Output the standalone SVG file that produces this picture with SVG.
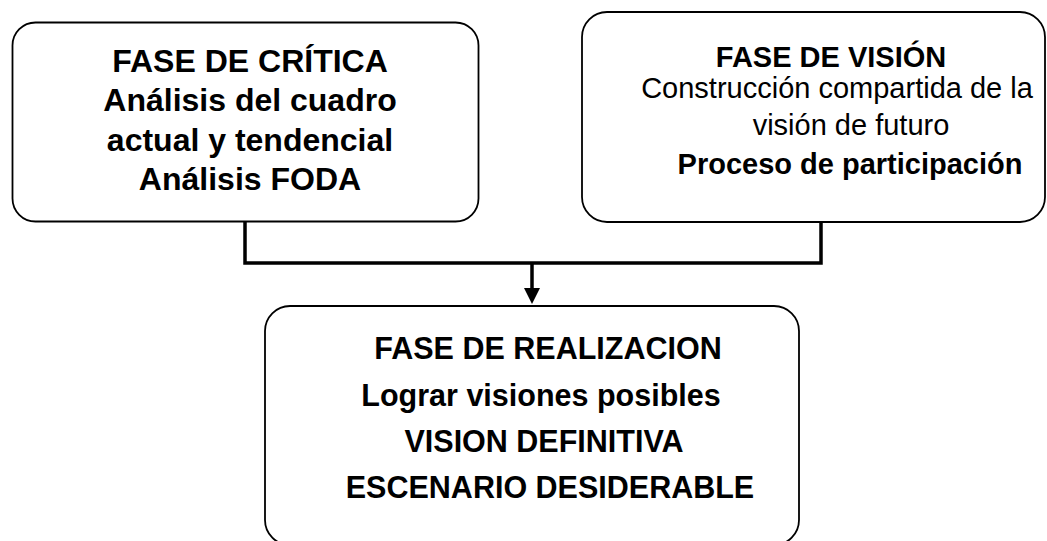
<svg xmlns="http://www.w3.org/2000/svg" width="1047" height="541" viewBox="0 0 1047 541">
  <style>
    .box { fill: #ffffff; stroke: #000000; stroke-width: 1.8; }
    .conn { fill: none; stroke: #000000; stroke-width: 3.5; }
    text { font-family: "Liberation Sans", Arial, sans-serif; fill: #000000; text-anchor: middle; }
    .b { font-weight: bold; }
    .t1 { font-size: 32px; }
    .t2 { font-size: 29px; }
    .t3 { font-size: 30.5px; }
  </style>
  <defs>
    <marker id="arrow" markerUnits="userSpaceOnUse" markerWidth="16" markerHeight="16" refX="10" refY="8" orient="auto">
      <path d="M0,0 L16,8 L0,16 Z" fill="#000000"/>
    </marker>
  </defs>
  <rect width="1047" height="541" fill="#ffffff"/>

  <g id="connectors">
    <path class="conn" d="M245,222 V263 H821 V222"/>
    <path class="conn" d="M532,263 V298" marker-end="url(#arrow)"/>
  </g>

  <g id="fase-critica">
    <rect class="box" x="12.5" y="22.5" width="466" height="199" rx="23" ry="23"/>
    <text class="b t1" x="250" y="72">FASE DE CRÍTICA</text>
    <text class="b t1" x="250" y="111">Análisis del cuadro</text>
    <text class="b t1" x="250" y="151">actual y tendencial</text>
    <text class="b t1" x="250" y="190">Análisis FODA</text>
  </g>

  <g id="fase-vision">
    <rect class="box" x="582" y="12" width="463" height="210" rx="25" ry="25"/>
    <text class="b t2" x="831" y="67">FASE DE VISIÓN</text>
    <text class="t2" x="837" y="98">Construcción compartida de la</text>
    <text class="t2" x="851" y="135">visión de futuro</text>
    <text class="b t2" x="850" y="174">Proceso de participación</text>
  </g>

  <g id="fase-realizacion">
    <rect class="box" x="265" y="306" width="534" height="239" rx="25" ry="25"/>
    <text class="b t3" x="548" y="359">FASE DE REALIZACION</text>
    <text class="b t3" x="541" y="406">Lograr visiones posibles</text>
    <text class="b t3" x="544" y="452">VISION DEFINITIVA</text>
    <text class="b t3" x="550" y="498">ESCENARIO DESIDERABLE</text>
  </g>
</svg>
